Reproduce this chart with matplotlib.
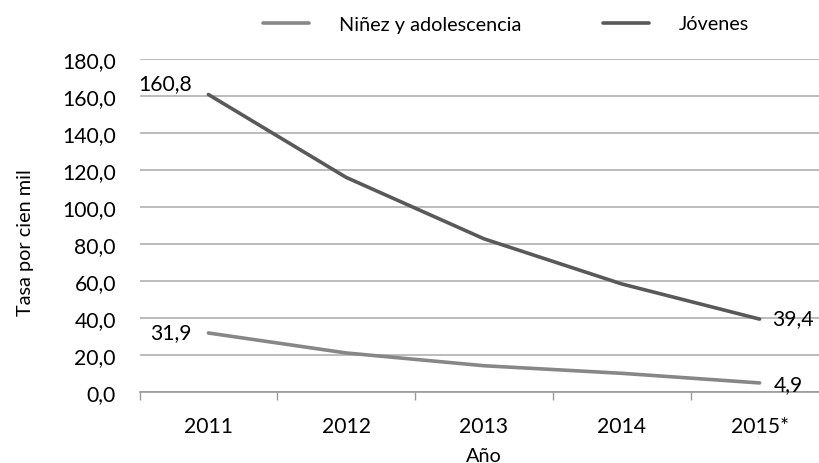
import matplotlib.pyplot as plt
import numpy as np

anios = ["2011", "2012", "2013", "2014", "2015*"]
ninez = [31.9, 21.1, 14.2, 10.1, 4.9]
jovenes = [160.8, 116.0, 82.8, 58.4, 39.4]

plt.rcParams['font.family'] = ['Lato', 'DejaVu Sans']
fs = 14.3   # textos
fn = 15.2   # numeros

fig = plt.figure(figsize=(8.19, 4.64), dpi=100)
ax = fig.add_axes([139.5/819, 1-393/464, 689/819, 333/464])

x = np.arange(len(anios))
gris_claro = "#878787"
gris_oscuro = "#595959"
ax.plot(x, ninez, color=gris_claro, linewidth=2.6, label="Niñez y adolescencia", solid_capstyle="round")
ax.plot(x, jovenes, color=gris_oscuro, linewidth=2.6, label="Jóvenes", solid_capstyle="round")

# etiquetas de los extremos
ax.annotate("160,8", (x[0], jovenes[0]), xytext=(-12, 8), textcoords="offset points",
            ha="right", va="center", fontsize=fn)
ax.annotate("31,9", (x[0], ninez[0]), xytext=(-12, 1), textcoords="offset points",
            ha="right", va="center", fontsize=fn)
ax.annotate("39,4", (x[-1], jovenes[-1]), xytext=(9, 1), textcoords="offset points",
            ha="left", va="center", fontsize=fn)
ax.annotate("4,9", (x[-1], ninez[-1]), xytext=(10, -1), textcoords="offset points",
            ha="left", va="center", fontsize=fn)

ax.set_xlim(-0.5, 4.5)
ax.set_ylim(0, 180)
yt = np.arange(0, 181, 20)
ax.set_yticks(yt)
ax.set_yticklabels([f"{v:.1f}".replace(".", ",") for v in yt], fontsize=fn)
ax.set_xticks(x)
ax.set_xticklabels(anios, fontsize=fn)
ax.set_xticks(np.arange(-0.5, 5, 1), minor=True)
ax.tick_params(axis="x", which="major", length=0, pad=17)
ax.tick_params(axis="x", which="minor", length=6, color="#999999", width=1)
ax.tick_params(axis="y", length=0, pad=17)

ax.grid(axis="y", color="#b0b0b0", linewidth=1.2)
ax.set_axisbelow(True)
for s in ["top", "right", "left"]:
    ax.spines[s].set_visible(False)
ax.spines["bottom"].set_color("#999999")
ax.spines["bottom"].set_linewidth(1.2)

ax.set_xlabel("Año", fontsize=fs, labelpad=8)
ax.set_ylabel("Tasa por cien mil", fontsize=fs)
ax.yaxis.set_label_coords(-0.153, 0.453)

fig.legend(loc="center", bbox_to_anchor=(506/819, 1-25/464), ncol=2, frameon=False,
           fontsize=fs, handlelength=2.35, columnspacing=4.1, handletextpad=1.5)

fig.savefig("out.png", dpi=100)
